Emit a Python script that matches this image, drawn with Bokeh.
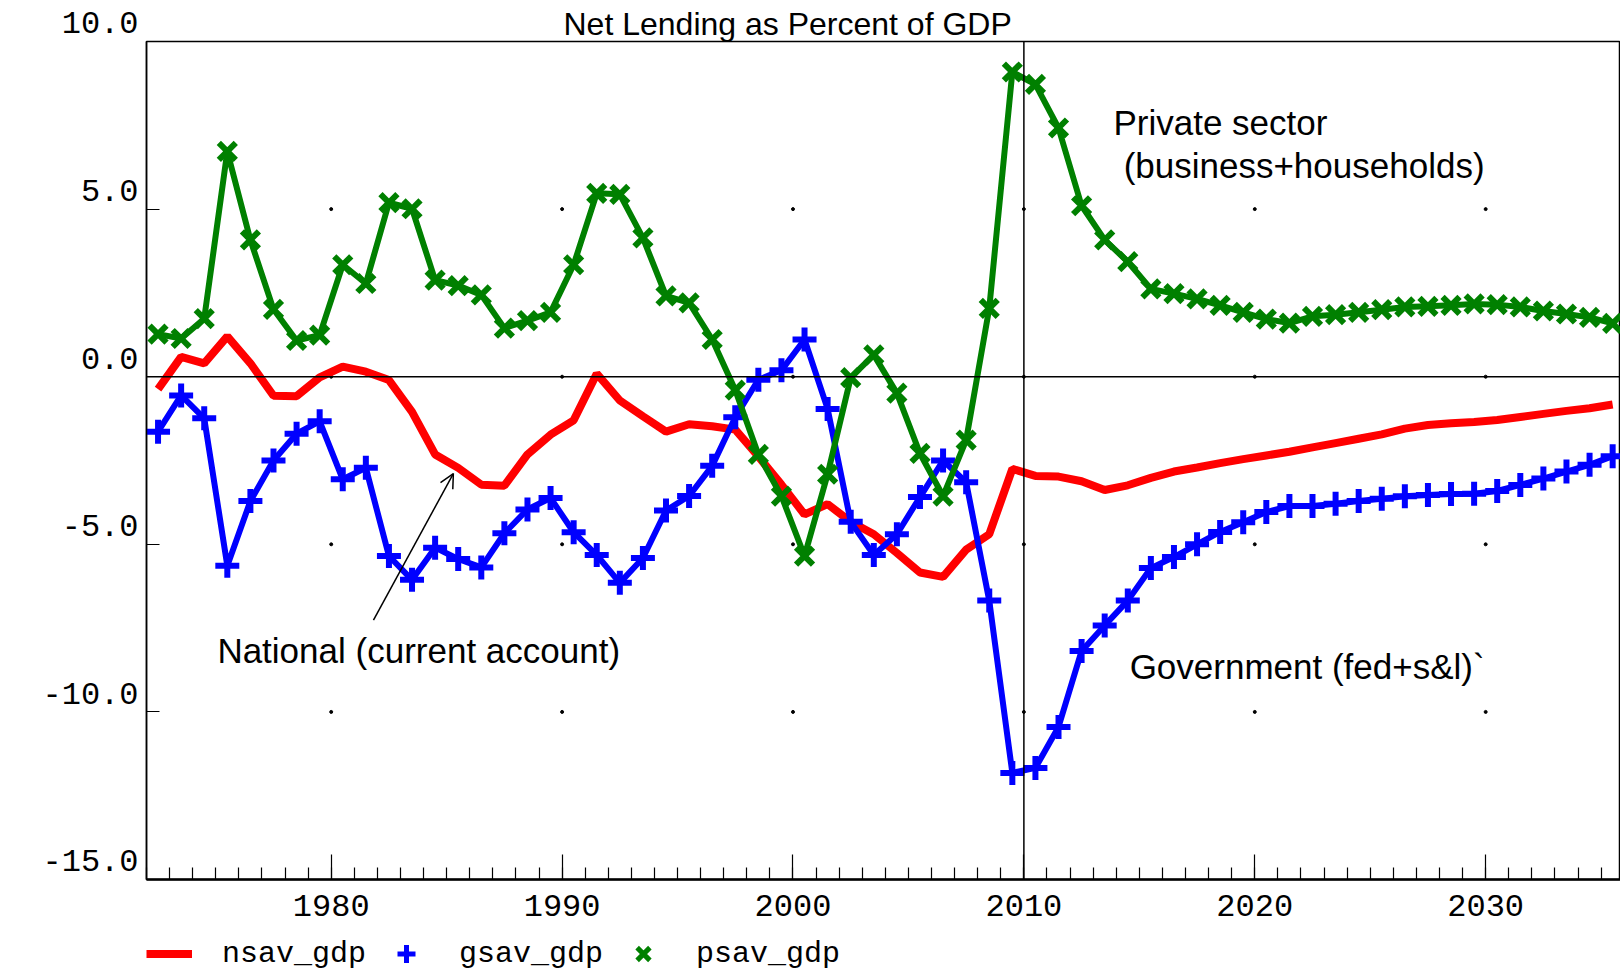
from bokeh.plotting import figure
from bokeh.layouts import column
from bokeh.models import (Span, Label, Arrow, OpenHead, Legend, LegendItem,
                          SingleIntervalTicker, FixedTicker, ColumnDataSource,
                          Range1d)
from bokeh.embed import file_html
from bokeh.resources import INLINE

# ---------------- data ----------------
years = list(range(1972, 2036))

nsav_gdp = [-0.37, 0.59, 0.40, 1.20, 0.40, -0.57, -0.58, -0.02, 0.30, 0.15,
            -0.10, -1.05, -2.32, -2.72, -3.22, -3.25, -2.32, -1.73, -1.30, 0.09,
            -0.71, -1.18, -1.64, -1.42, -1.48, -1.58, -2.38, -3.22, -4.11, -3.80,
            -4.33, -4.70, -5.26, -5.84, -5.97, -5.16, -4.70, -2.75, -2.96, -2.98,
            -3.12, -3.38, -3.24, -3.02, -2.83, -2.71, -2.58, -2.46, -2.35, -2.24,
            -2.11, -1.98, -1.85, -1.72, -1.55, -1.44, -1.39, -1.35, -1.29, -1.20,
            -1.11, -1.02, -0.94, -0.83]

gsav_gdp = [-1.64, -0.56, -1.24, -5.64, -3.71, -2.50, -1.70, -1.33, -3.06, -2.72,
            -5.35, -6.06, -5.10, -5.44, -5.69, -4.67, -3.96, -3.62, -4.64, -5.32,
            -6.15, -5.41, -3.99, -3.56, -2.66, -1.21, -0.09, 0.19, 1.11, -0.96,
            -4.33, -5.32, -4.70, -3.59, -2.50, -3.15, -6.68, -11.82, -11.67, -10.45,
            -8.18, -7.42, -6.68, -5.71, -5.38, -5.00, -4.63, -4.34, -4.04, -3.86,
            -3.86, -3.79, -3.71, -3.64, -3.57, -3.53, -3.50, -3.49, -3.41, -3.23,
            -3.04, -2.83, -2.63, -2.37]

psav_gdp = [1.27, 1.14, 1.73, 6.72, 4.08, 2.01, 1.08, 1.24, 3.34, 2.78,
            5.19, 5.01, 2.88, 2.72, 2.44, 1.45, 1.67, 1.92, 3.34, 5.47,
            5.44, 4.14, 2.41, 2.20, 1.11, -0.40, -2.32, -3.56, -5.35, -2.91,
            -0.03, 0.65, -0.49, -2.29, -3.56, -1.89, 2.04, 9.09, 8.72, 7.42,
            5.10, 4.08, 3.43, 2.62, 2.48, 2.32, 2.13, 1.92, 1.72, 1.60,
            1.80, 1.85, 1.92, 2.00, 2.08, 2.10, 2.13, 2.17, 2.15, 2.08,
            1.96, 1.87, 1.77, 1.59]

series_names = ["nsav_gdp", "gsav_gdp", "psav_gdp"]
x_major_ticks = [1980, 1990, 2000, 2010, 2020, 2030]
y_ticks = [-15, -10, -5, 0, 5, 10]
y_tick_labels = ["-15.0", "-10.0", "-5.0", "0.0", "5.0", "10.0"]
grid_dot_y = [-10, -5, 0, 5]
title_text = "Net Lending as Percent of GDP"
note_private_1 = "Private sector"
note_private_2 = "(business+households)"
note_national = "National (current account)"
note_government = "Government (fed+s&l)`"

# ---------------- styling ----------------
RED, BLUE, GREEN = "#ff0000", "#0000ff", "#008000"
MONO = "Liberation Mono"
SANS = "Liberation Sans"
W = 1620
H_MAIN = 931
H_LEG = 45

x_mid = [y + 0.5 for y in years]  # annual values plotted at mid-year
src = ColumnDataSource(dict(x=x_mid, n=nsav_gdp, g=gsav_gdp, p=psav_gdp))

p = figure(width=W, height=H_MAIN, output_backend="svg", toolbar_location=None,
           x_range=Range1d(1972, 2035.84), y_range=Range1d(-15, 10),
           min_border_left=146, min_border_right=0, min_border_top=41,
           min_border_bottom=52, background_fill_color="white",
           border_fill_color="white")

p.title.text = title_text
p.title.text_font = SANS
p.title.text_font_size = "32px"
p.title.text_font_style = "normal"
p.title.text_color = "black"
p.title.align = "left"
p.title.offset = 417
p.title.standoff = 0

p.outline_line_color = "black"
p.outline_line_width = 1.5
p.xgrid.visible = False
p.ygrid.visible = False

# x axis
xa = p.xaxis[0]
xa.ticker = SingleIntervalTicker(interval=10, num_minor_ticks=10)
xa.major_tick_in = 25
xa.major_tick_out = 0
xa.minor_tick_in = 12
xa.minor_tick_out = 0
xa.axis_line_width = 2.5
xa.major_tick_line_width = 1.2
xa.minor_tick_line_width = 1.2
xa.major_label_text_font = MONO
xa.major_label_text_font_size = "32px"
xa.major_label_standoff = 15
xa.major_label_text_color = "black"

# y axis: labels sit a little above their ticks (blank second line)
ya = p.yaxis[0]
ya.ticker = FixedTicker(ticks=y_ticks)
ya.major_tick_in = 13
ya.major_tick_out = 0
ya.minor_tick_line_color = None
ya.axis_line_width = 1.5
ya.major_label_overrides = {t: lab + "\n " for t, lab in zip(y_ticks, y_tick_labels)}
ya.major_label_text_font = MONO
ya.major_label_text_font_size = "32px"
ya.major_label_text_line_height = 0.9
ya.major_label_text_color = "black"
ya.major_label_standoff = 8

# grid dots at major tick intersections
gx = [x for x in x_major_ticks for _ in grid_dot_y]
gy = [y for _ in x_major_ticks for y in grid_dot_y]
p.scatter(gx, gy, size=3, color="black")

# reference lines
p.add_layout(Span(location=0, dimension="width", line_color="black", line_width=1.5))
p.add_layout(Span(location=2010, dimension="height", line_color="black", line_width=1.5))

# series
line_styles = [dict(line_color=RED, line_width=8),
               dict(line_color=BLUE, line_width=6),
               dict(line_color=GREEN, line_width=6)]
r_n = p.line("x", "n", source=src, **line_styles[0])
r_g = p.line("x", "g", source=src, **line_styles[1])
s_g = p.scatter("x", "g", source=src, marker="cross", size=24,
                line_color=BLUE, line_width=6)
r_p = p.line("x", "p", source=src, **line_styles[2])
s_p = p.scatter("x", "p", source=src, marker="x", size=24,
                line_color=GREEN, line_width=6)

# annotations
note_style = dict(text_font=SANS, text_font_size="35px", text_color="black",
                  text_align="left", text_baseline="middle")
p.add_layout(Label(x=2013.88, y=7.57, text=note_private_1, **note_style))
p.add_layout(Label(x=2014.32, y=6.29, text=note_private_2, **note_style))
p.add_layout(Label(x=1975.07, y=-8.18, text=note_national, **note_style))
p.add_layout(Label(x=2014.58, y=-8.66, text=note_government, **note_style))
p.add_layout(Arrow(end=OpenHead(size=14, line_width=1.5, line_color="black"),
                   x_start=1981.83, y_start=-7.26, x_end=1985.29, y_end=-2.89,
                   line_width=1.5, line_color="black"))

# ---------------- key strip below the chart ----------------
# same series, drawn far outside this strip's view so only the key shows
k = figure(width=W, height=H_LEG, output_backend="svg", toolbar_location=None,
           x_range=Range1d(0, 1), y_range=Range1d(0, 1),
           x_axis_location=None, y_axis_location=None,
           min_border=0, outline_line_color=None,
           background_fill_color="white", border_fill_color="white")
k.xgrid.visible = False
k.ygrid.visible = False
k_n = k.line("x", "n", source=src, **line_styles[0])
k_g = k.scatter("x", "g", source=src, marker="cross", line_color=BLUE, line_width=5)
k_p = k.scatter("x", "p", source=src, marker="x", line_color=GREEN, line_width=5)
legend = Legend(items=[LegendItem(label=series_names[0], renderers=[k_n]),
                       LegendItem(label=series_names[1], renderers=[k_g]),
                       LegendItem(label=series_names[2], renderers=[k_p])],
                orientation="horizontal", location=(0, 0),
                glyph_width=46, glyph_height=45, label_standoff=30, spacing=17,
                padding=0, margin=0, border_line_color=None,
                background_fill_alpha=0, label_text_font=MONO,
                label_text_font_size="30px", label_text_color="black")
k.add_layout(legend)

layout = column(p, k, spacing=0)
open("out.html", "w").write(file_html(layout, INLINE))
